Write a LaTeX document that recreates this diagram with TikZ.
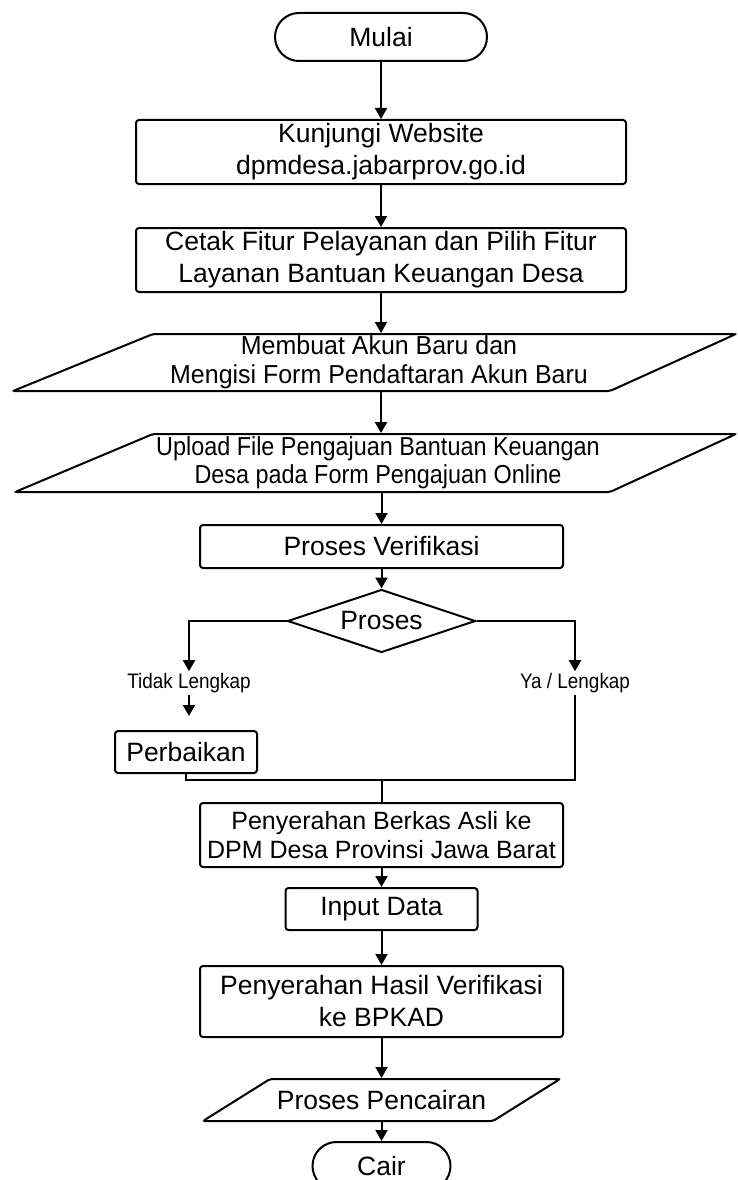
\documentclass[tikz,border=0pt]{standalone}
\usepackage{fontspec}
\setmainfont{Liberation Sans}
\newfontfamily\condfont[FakeStretch=0.96]{Liberation Sans}
\newfontfamily\condfontb[FakeStretch=0.9]{Liberation Sans}
\usetikzlibrary{shapes.geometric,arrows.meta}
\begin{document}
\begin{tikzpicture}[x=1pt,y=-1pt,line width=2pt,
  every node/.style={inner sep=1pt,text=black},
  proc/.style={draw,rounded corners=3pt,align=center,inner sep=0pt,font=\fontsize{26.5}{32}\selectfont},
  term/.style={draw,rounded corners=24pt,inner sep=0pt,minimum height=48pt,font=\fontsize{26.5}{32}\selectfont},
  io/.style={align=center,inner sep=0pt},
  flow/.style={-{Triangle[width=12pt,length=11pt]}},
  lbl/.style={font=\condfontb\fontsize{21}{25}\selectfont}]
\useasboundingbox (0,0) rectangle (738,1180);
\clip (0,0) rectangle (738,1180);
\fill[white] (0,0) rectangle (738,1180);

% nodes
\node[term,minimum width=212pt] (mulai) at (381,37) {Mulai};
\node[proc,minimum width=490pt,minimum height=64pt] (web) at (381,152) {Kunjungi Website\\dpmdesa.jabarprov.go.id};
\node[proc,minimum width=490pt,minimum height=64pt] (cetak) at (381,260) {Cetak Fitur Pelayanan dan Pilih Fitur\\Layanan Bantuan Keuangan Desa};

\draw[rounded corners=2pt] (153,334) -- (736,334) -- (610,391) -- (13,391) -- cycle;
\node[io,minimum height=57pt,font=\condfont\fontsize{26}{29}\selectfont] (p1) at (379,362.5) {Membuat Akun Baru dan\\Mengisi Form Pendaftaran Akun Baru};

\draw[rounded corners=2pt] (153,434) -- (736,434) -- (610,492) -- (15,492) -- cycle;
\node[io,minimum height=58pt,font=\condfontb\fontsize{26}{28}\selectfont] (p2) at (378,463) {Upload File Pengajuan Bantuan Keuangan\\Desa pada Form Pengajuan Online};

\node[proc,minimum width=363pt,minimum height=43pt] (verif) at (381.5,546.5) {Proses Verifikasi};
\node[diamond,draw,aspect=3,inner sep=0pt,minimum width=188pt,minimum height=63pt,font=\fontsize{26.5}{32}\selectfont] (proses) at (381.5,621) {Proses};

\node[lbl] (tidak) at (189,683) {Tidak Lengkap};
\node[lbl] (ya) at (575,683) {Ya / Lengkap};
\coordinate (tend) at (189,716);
\node[proc,minimum width=142pt,minimum height=42pt] (perb) at (186,752) {Perbaikan};
\coordinate (join) at (381.5,780);

\node[proc,minimum width=363pt,minimum height=64pt,font=\fontsize{25}{29}\selectfont,text depth=0pt] (berkas) at (381.5,835) {Penyerahan Berkas Asli ke\\DPM Desa Provinsi Jawa Barat};
\node[proc,minimum width=192pt,minimum height=42pt] (input) at (381.5,909) {Input Data};
\node[proc,minimum width=363pt,minimum height=71pt] (hasil) at (381.5,1001.5) {Penyerahan Hasil Verifikasi\\ke BPKAD};

\draw[rounded corners=2pt] (270,1079) -- (560,1079) -- (493,1121) -- (203,1121) -- cycle;
\node[io,minimum height=42pt,font=\fontsize{26.5}{32}\selectfont] (p3) at (381.5,1100) {Proses Pencairan};
\node[term,minimum width=138pt] (cair) at (381.5,1166) {Cair};

% connectors
\draw[flow] (mulai) -- (web);
\draw[flow] (web) -- (cetak);
\draw[flow] (cetak.south) -- (cetak.south |- p1.north);
\draw[flow] (cetak.south |- p1.south) -- (cetak.south |- p2.north);
\draw[flow] (verif.north |- p2.south) -- (verif.north);
\draw[flow] (verif) -- (proses);
\draw[flow] (proses.west) -| (tidak.north);
\draw[flow] (tidak.south) -- (tend);
\draw[flow] (proses.east) -| (ya.north);
\draw (perb.south) |- (join);
\draw (ya.south) |- (join);
\draw (join) -- (berkas.north);
\draw[flow] (berkas) -- (input);
\draw[flow] (input) -- (hasil);
\draw[flow] (hasil.south) -- (hasil.south |- p3.north);
\draw[flow] (cair.north |- p3.south) -- (cair.north);
\end{tikzpicture}
\end{document}
